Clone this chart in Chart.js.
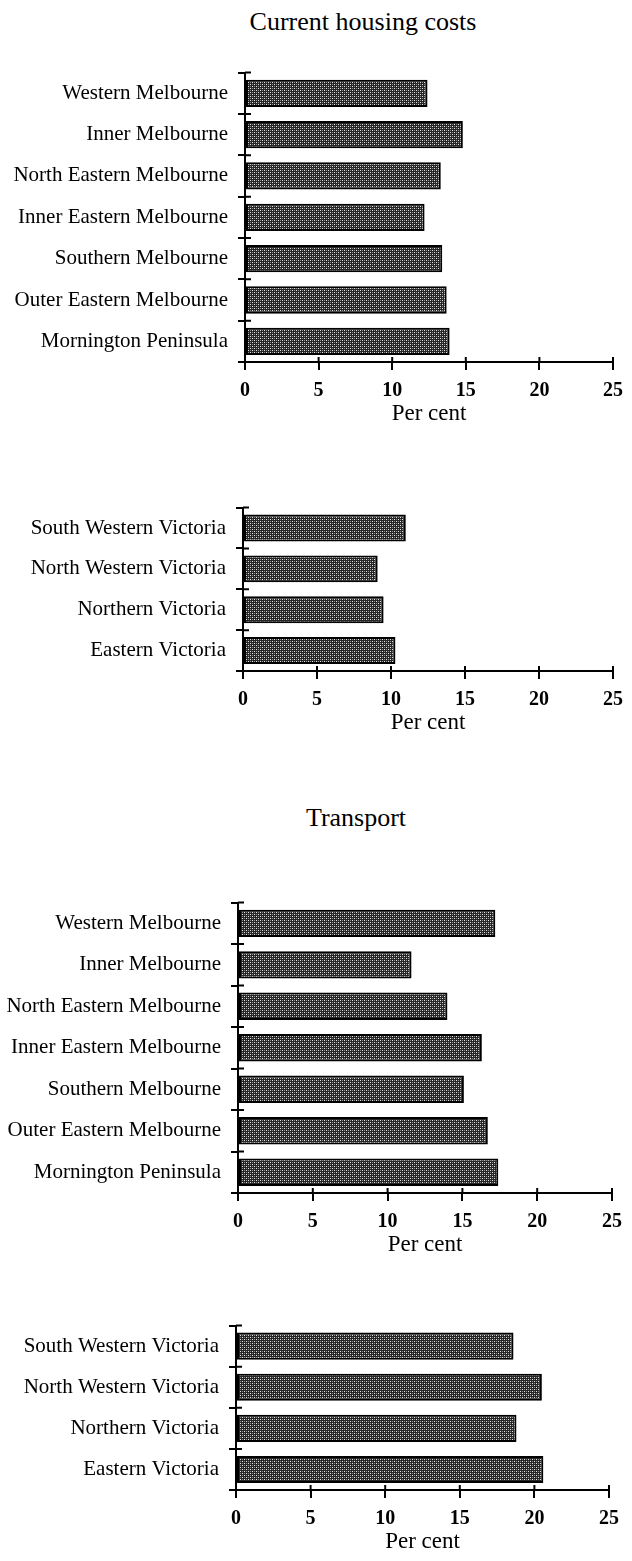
<!DOCTYPE html>
<html>
<head>
<meta charset="utf-8">
<script src="https://cdn.jsdelivr.net/npm/chart.js@4.4.1/dist/chart.umd.min.js"></script>
<style>
    body { margin: 0; background: #fff; }
    .Page { position: relative; width: 632px; height: 1561px; overflow: hidden; }
    .Panel { position: absolute; left: 0; width: 632px; }
    .Heading {
        position: absolute;
        font-family: "Liberation Serif", "Times New Roman", serif;
        font-size: 26px;
        color: #000;
        transform: translateX(-50%);
        white-space: nowrap;
    }
</style>
</head>
<body>
<div class="Page">
    <div class="Heading" style="left:363px; top:7px;">Current housing costs</div>
    <div class="Panel" style="top:50px; height:382px;"><canvas id="housingMetroChart"></canvas></div>
    <div class="Panel" style="top:485px; height:256px;"><canvas id="housingCountryChart"></canvas></div>
    <div class="Heading" style="left:356px; top:803px;">Transport</div>
    <div class="Panel" style="top:880px; height:383px;"><canvas id="transportMetroChart"></canvas></div>
    <div class="Panel" style="top:1303px; height:257px;"><canvas id="transportCountryChart"></canvas></div>
</div>
<script>
// --- DATA ---
var metroRegions = ['Western Melbourne', 'Inner Melbourne', 'North Eastern Melbourne', 'Inner Eastern Melbourne',
    'Southern Melbourne', 'Outer Eastern Melbourne', 'Mornington Peninsula'];
var countryRegions = ['South Western Victoria', 'North Western Victoria', 'Northern Victoria', 'Eastern Victoria'];

// per cent of spending
var housingMetro = [12.4, 14.8, 13.3, 12.2, 13.4, 13.7, 13.9];
var housingCountry = [11.0, 9.1, 9.5, 10.3];
var transportMetro = [17.2, 11.6, 14.0, 16.3, 15.1, 16.7, 17.4];
var transportCountry = [18.6, 20.5, 18.8, 20.6];

var xMin = 0;
var xMax = 25;
var xStep = 5;
var xTitle = 'Per cent';

var serif = '"Liberation Serif", "Times New Roman", serif';

// stippled grey fill like the old print
function makeStipple() {
    var c = document.createElement('canvas');
    c.width = 4;
    c.height = 4;
    var g = c.getContext('2d');
    g.fillStyle = '#262626';
    g.fillRect(0, 0, 4, 4);
    g.fillStyle = '#e6e6e6';
    g.fillRect(0, 0, 1, 1);
    g.fillRect(2, 2, 1, 1);
    g.fillStyle = '#8a8a8a';
    g.fillRect(2, 0, 1, 1);
    g.fillRect(0, 2, 1, 1);
    return g.createPattern(c, 'repeat');
}

// ticks in the picture cross the axis line, so draw the inner half too
var crossTicks = {
    id: 'crossTicks',
    afterDraw: function (chart) {
        var ctx = chart.ctx;
        var xs = chart.scales.x;
        var ys = chart.scales.y;
        ctx.save();
        ctx.strokeStyle = '#000';
        ctx.lineWidth = 2;
        ctx.beginPath();
        xs.ticks.forEach(function (t, i) {
            var px = xs.getPixelForTick(i);
            ctx.moveTo(px, xs.top);
            ctx.lineTo(px, xs.top - 5);
        });
        // category boundaries sit half a step from each label
        var half = (ys.getPixelForTick(1) - ys.getPixelForTick(0)) / 2;
        ys.ticks.forEach(function (t, i) {
            var py = ys.getPixelForTick(i) - half;
            ctx.moveTo(ys.right, py);
            ctx.lineTo(ys.right + 6, py);
            if (i === ys.ticks.length - 1) {
                ctx.moveTo(ys.right, py + half * 2);
                ctx.lineTo(ys.right + 6, py + half * 2);
            }
        });
        ctx.stroke();
        ctx.restore();
    }
};

function makeChart(id, labels, values, axisLeft, plotRight) {
    var ctx = document.getElementById(id).getContext('2d');
    return new Chart(ctx, {
        type: 'bar',
        data: {
            labels: labels,
            datasets: [{
                data: values,
                backgroundColor: makeStipple(),
                borderColor: '#000',
                borderWidth: 2,
                borderSkipped: false,
                categoryPercentage: 1,
                barPercentage: 0.66
            }]
        },
        options: {
            indexAxis: 'y',
            responsive: true,
            maintainAspectRatio: false,
            animation: false,
            layout: { padding: { top: 15, right: 632 - plotRight, left: 0, bottom: 0 } },
            plugins: {
                legend: { display: false },
                tooltip: { enabled: false }
            },
            scales: {
                x: {
                    min: xMin,
                    max: xMax,
                    afterFit: function (scale) { scale.height = 70; },
                    ticks: {
                        stepSize: xStep,
                        color: '#000',
                        padding: 9,
                        maxRotation: 0,
                        font: { family: serif, size: 20, weight: 'bold' }
                    },
                    grid: { drawOnChartArea: false, color: '#000', lineWidth: 2, tickLength: 8 },
                    border: { color: '#000', width: 2 },
                    title: {
                        display: true,
                        text: xTitle,
                        color: '#000',
                        padding: { top: 0, bottom: 4 },
                        font: { family: serif, size: 23 }
                    }
                },
                y: {
                    afterFit: function (scale) { scale.width = axisLeft; },
                    ticks: {
                        color: '#000',
                        padding: 10,
                        font: { family: serif, size: 21 }
                    },
                    grid: { drawOnChartArea: false, color: '#000', lineWidth: 2, tickLength: 7 },
                    border: { color: '#000', width: 2 }
                }
            }
        },
        plugins: [crossTicks]
    });
}

var housingMetroChart = makeChart('housingMetroChart', metroRegions, housingMetro, 245, 618);
var housingCountryChart = makeChart('housingCountryChart', countryRegions, housingCountry, 243, 616);
var transportMetroChart = makeChart('transportMetroChart', metroRegions, transportMetro, 238, 612);
var transportCountryChart = makeChart('transportCountryChart', countryRegions, transportCountry, 236, 609);
</script>
</body>
</html>
